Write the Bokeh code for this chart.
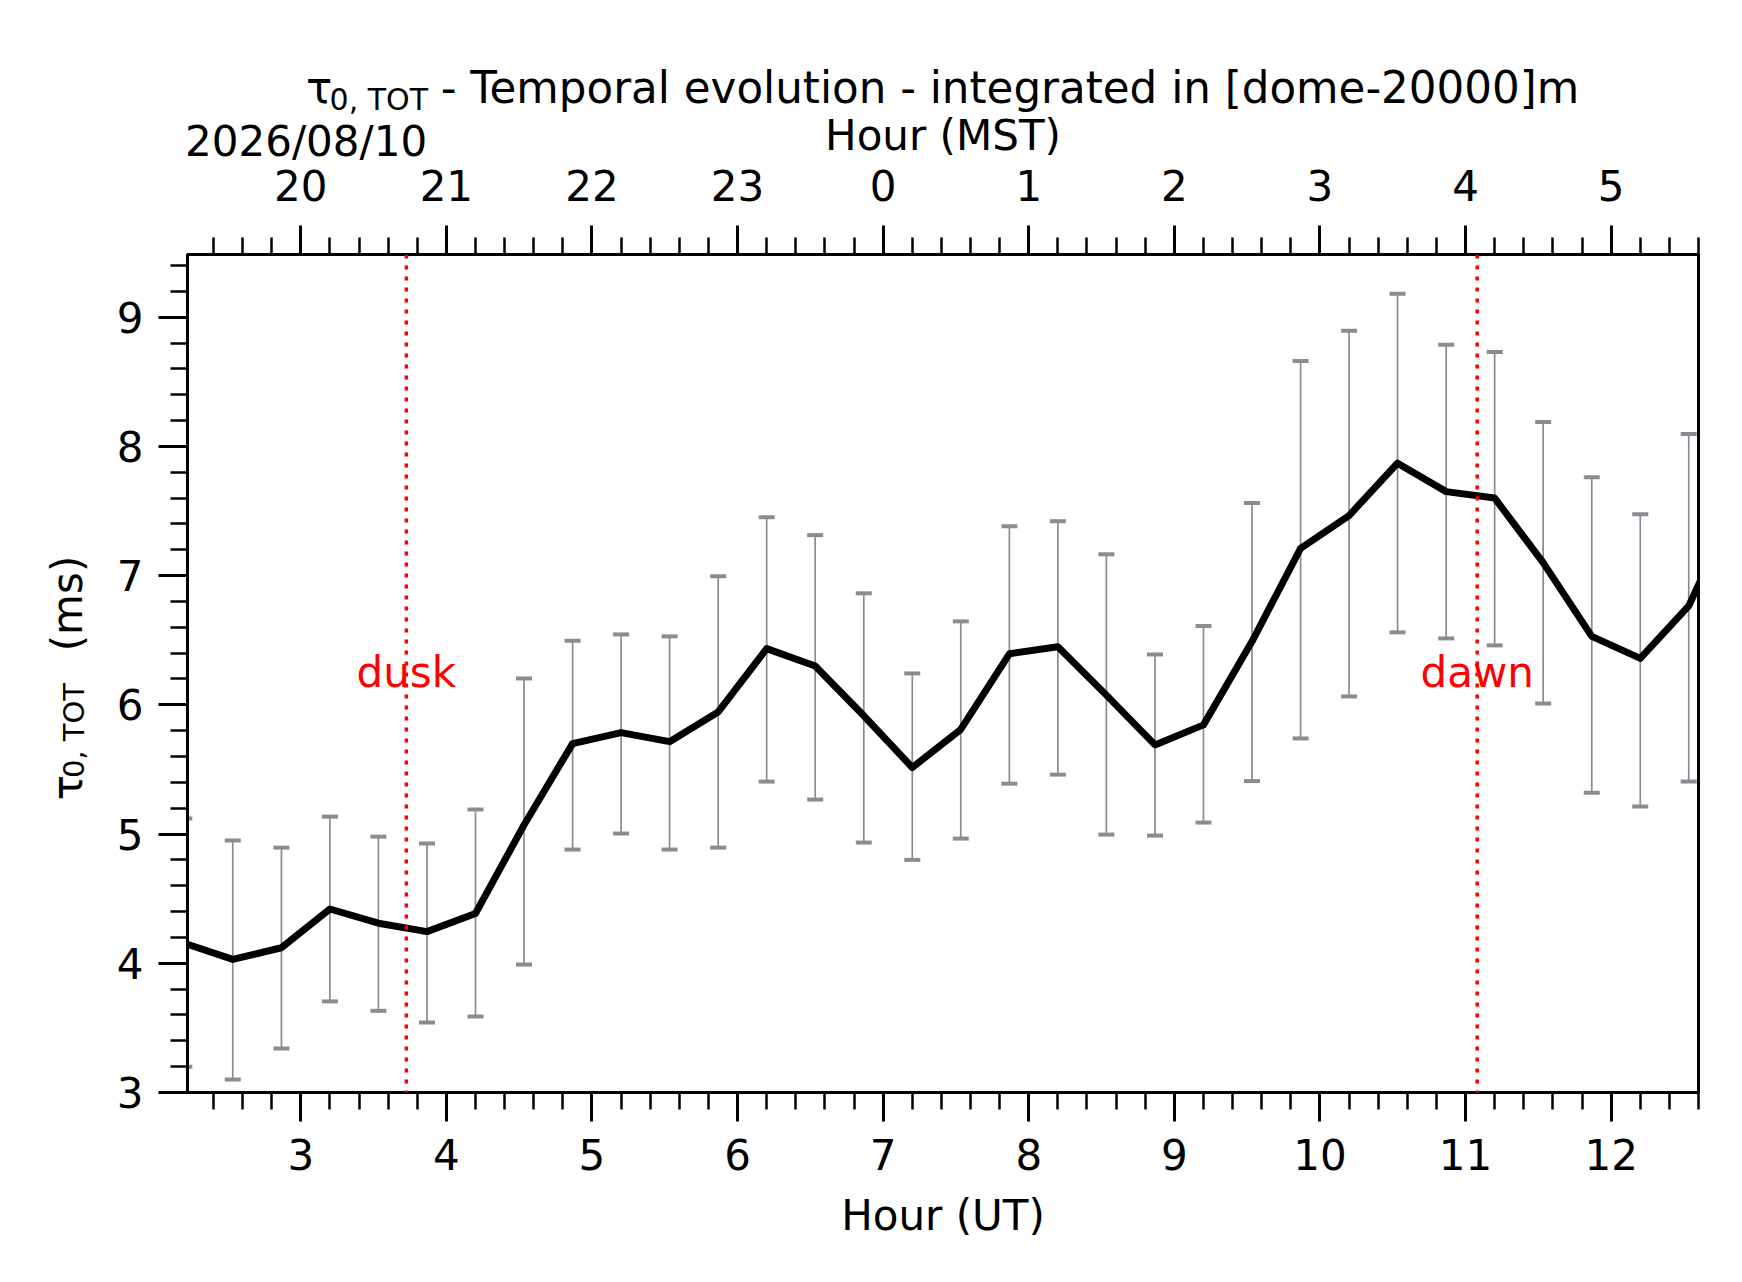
import numpy as np
from bokeh.plotting import figure
from bokeh.models import Range1d, LinearAxis, FixedTicker, Label, Span
from bokeh.embed import file_html
from bokeh.resources import INLINE

# ---------------- data ----------------
hours_ut = [2.2, 2.533, 2.867, 3.2, 3.533, 3.867, 4.2, 4.533, 4.867, 5.2, 5.533,
            5.867, 6.2, 6.533, 6.867, 7.2, 7.533, 7.867, 8.2, 8.533, 8.867, 9.2,
            9.533, 9.867, 10.2, 10.533, 10.867, 11.2, 11.533, 11.867, 12.2, 12.533, 12.867]
tau0 = [4.155, 4.03, 4.12, 4.42, 4.31, 4.245, 4.385, 5.07, 5.70, 5.785, 5.715,
        5.945, 6.435, 6.30, 5.915, 5.515, 5.81, 6.395, 6.45, 6.075, 5.69, 5.845,
        6.49, 7.21, 7.465, 7.87, 7.65, 7.60, 7.10, 6.53, 6.36, 6.765, 7.58]
tau0_upper = [5.12, 4.95, 4.895, 5.135, 4.98, 4.927, 5.19, 6.204, 6.496, 6.545, 6.53,
              6.995, 7.452, 7.313, 6.863, 6.243, 6.646, 7.382, 7.421, 7.165, 6.39, 6.61,
              7.561, 8.661, 8.894, 9.181, 8.786, 8.731, 8.189, 7.762, 7.475, 8.096, 8.78]
tau0_lower = [3.20, 3.10, 3.34, 3.705, 3.632, 3.542, 3.588, 3.99, 4.88, 5.004, 4.88,
              4.895, 5.406, 5.267, 4.934, 4.80, 4.965, 5.39, 5.46, 4.996, 4.988, 5.089,
              5.41, 5.74, 6.065, 6.561, 6.514, 6.46, 6.01, 5.32, 5.213, 5.406, 6.38]
ut_ticks = [3, 4, 5, 6, 7, 8, 9, 10, 11, 12]
mst_labels = ["20", "21", "22", "23", "0", "1", "2", "3", "4", "5"]
y_ticks = [3, 4, 5, 6, 7, 8, 9]
dusk_ut = 3.725
dawn_ut = 11.08
twilight_text_y = 6.25
date_text = "2026/08/10"
title_symbol = "τ"
title_sub = "0, TOT"
title_rest = "- Temporal evolution - integrated in [dome-20000]m"
ylabel_unit = "(ms)"
x_lim = [2.222, 12.600]
y_lim = [3.0, 9.485]

# ---------------- style / layout ----------------
FONT = "DejaVu Sans"
FS = "42px"
SUBFS = "29px"
TFS = "43.6px"
TSUBFS = "30px"
GREY = "#8a8c94"
W, H = 1742, 1282
FL, FR, FT, FBOT = 187, 1698, 254, 1092      # frame edges in page pixels

p = figure(width=W, height=H, output_backend="svg", toolbar_location=None,
           x_range=Range1d(*x_lim), y_range=Range1d(*y_lim),
           min_border_left=FL, min_border_right=W - FR,
           min_border_top=FT, min_border_bottom=H - FBOT)
p.background_fill_color = "white"
p.border_fill_color = "white"
p.xgrid.visible = False
p.ygrid.visible = False
p.outline_line_color = "black"
p.outline_line_width = 3
p.outline_line_alpha = 1.0


def px_to_x(X):
    return x_lim[0] + (X - FL) / (FR - FL) * (x_lim[1] - x_lim[0])


def px_to_y(Y):
    return y_lim[0] + (FBOT - Y) / (FBOT - FT) * (y_lim[1] - y_lim[0])


def style_axis(ax, standoff):
    ax.axis_line_width = 3
    ax.axis_line_color = "black"
    ax.major_tick_line_width = 3
    ax.major_tick_out = 29
    ax.major_tick_in = 0
    ax.minor_tick_line_width = 2.5
    ax.minor_tick_out = 17
    ax.minor_tick_in = 0
    ax.major_label_text_font = FONT
    ax.major_label_text_font_size = FS
    ax.major_label_text_color = "black"
    ax.major_label_standoff = standoff
    ax.axis_label_text_font = FONT
    ax.axis_label_text_font_size = FS
    ax.axis_label_text_font_style = "normal"
    ax.axis_label_text_color = "black"


x_minor = list(np.round(np.arange(2.2, 12.61, 0.2), 3))
y_minor = list(np.round(np.arange(3.0, 9.5, 0.2), 3))

bottom = p.xaxis[0]
bottom.ticker = FixedTicker(ticks=ut_ticks, minor_ticks=x_minor)
style_axis(bottom, 17)
bottom.axis_label = "Hour (UT)"
bottom.axis_label_standoff = 18

left = p.yaxis[0]
left.ticker = FixedTicker(ticks=y_ticks, minor_ticks=y_minor)
style_axis(left, 15)
left.axis_label = None

top = LinearAxis(ticker=FixedTicker(ticks=ut_ticks, minor_ticks=x_minor),
                 major_label_overrides={t: s for t, s in zip(ut_ticks, mst_labels)})
style_axis(top, 25)
top.axis_label = "Hour (MST)"
top.axis_label_standoff = 7
p.add_layout(top, "above")


def text_axis(side, positions, texts, size, standoff, orientation="horizontal"):
    """An axis without line/ticks, used only to carry text outside the frame."""
    ax = LinearAxis(ticker=FixedTicker(ticks=positions, minor_ticks=[]),
                    major_label_overrides={v: t for v, t in zip(positions, texts)})
    ax.axis_line_color = None
    ax.major_tick_line_color = None
    ax.minor_tick_line_color = None
    ax.major_tick_out = 0
    ax.major_tick_in = 0
    ax.minor_tick_out = 0
    ax.minor_tick_in = 0
    ax.major_label_text_font = FONT
    ax.major_label_text_font_size = size
    ax.major_label_text_color = "black"
    ax.major_label_standoff = standoff
    ax.major_label_orientation = orientation
    ax.axis_label = None
    p.add_layout(ax, side)
    return ax


# top rows (stacked outward from the MST axis)
text_axis("above", [px_to_x(305.6)], [date_text], FS, -58)
text_axis("above", [px_to_x(378.3)], [title_sub], TSUBFS, -9)
text_axis("above", [px_to_x(318.5), px_to_x(1009.5)], [title_symbol, title_rest], TFS, -34)
# left rows: rotated y-axis title
text_axis("left", [px_to_y(787), px_to_y(603)], [title_symbol, ylabel_unit], FS, 22, "parallel")
text_axis("left", [px_to_y(730)], [title_sub], SUBFS, -51, "parallel")

# ---------------- glyphs ----------------
p.segment(x0=hours_ut, y0=tau0_lower, x1=hours_ut, y1=tau0_upper,
          line_color=GREY, line_width=1.7)
p.dash(x=hours_ut + hours_ut, y=tau0_upper + tau0_lower, size=16,
       line_width=4, line_color=GREY)
p.line(hours_ut, tau0, line_width=7, line_color="black", line_join="round")

for loc in (dusk_ut, dawn_ut):
    p.add_layout(Span(location=loc, dimension="height", line_color="red",
                      line_width=3.5, line_dash="4 7"))

for loc, txt in ((dusk_ut, "dusk"), (dawn_ut, "dawn")):
    p.add_layout(Label(x=loc, y=twilight_text_y, text=txt, text_font=FONT,
                       text_font_size=FS, text_color="red", text_align="center",
                       text_baseline="alphabetic"))

open("out.html", "w").write(file_html(p, INLINE))
